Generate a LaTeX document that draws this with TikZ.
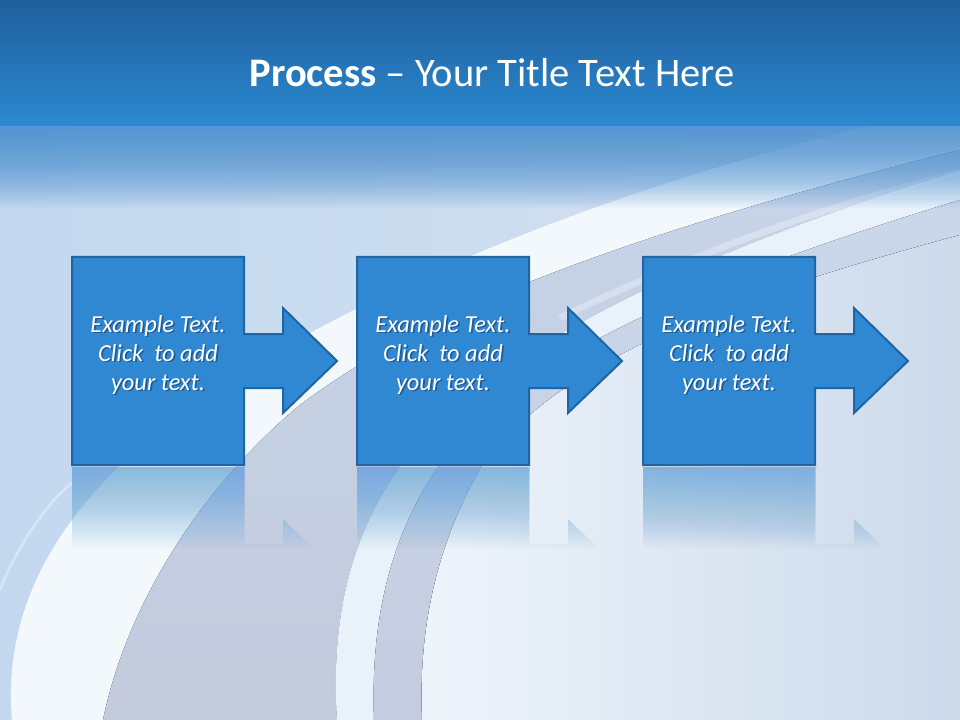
\documentclass[tikz,border=0pt]{standalone}
\usepackage{fontspec}
\setmainfont{Carlito}
\definecolor{boxblue}{HTML}{3088D2}
\definecolor{boxedge}{HTML}{1F64A3}
\definecolor{txtshadow}{HTML}{1F5C97}
\definecolor{tTop}{HTML}{1E5F9C}
\definecolor{tBot}{HTML}{2C89D1}
\definecolor{tFade}{HTML}{4790D3}
\definecolor{reflcol}{HTML}{5FA3DF}
\definecolor{bgL}{HTML}{C3D8EF}
\definecolor{bgM}{HTML}{BFCEE6}
\definecolor{bgR}{HTML}{D6E2F0}
\definecolor{wband}{HTML}{F3F8FC}
\definecolor{gOneT}{HTML}{C6D4E9}
\definecolor{gOneB}{HTML}{C3CBDC}
\definecolor{lstrip}{HTML}{E9F2FA}
\definecolor{gTwoT}{HTML}{CAD7EA}
\definecolor{gTwoB}{HTML}{C4CDDF}
\definecolor{rL}{HTML}{EEF4FA}
\definecolor{rR}{HTML}{CCDAEB}
\newcommand\shtext[1]{\makebox[0pt][l]{\kern1.3pt\raisebox{-1.3pt}{\textcolor{txtshadow}{#1}}}#1}
\tikzset{
  procpath/.style={insert path={(0,0) -- (172,0) -- (172,77) -- (211,77) -- (211,51) -- (265,104) -- (211,156) -- (211,131) -- (172,131) -- (172,208) -- (0,208) -- cycle}},
  procbox/.style={fill=boxblue, draw=boxedge, line width=1.5pt, line join=miter},
  boxtxt/.style={anchor=base, inner sep=0pt, text=white, font=\fontsize{18.3}{22}\selectfont\itshape},
  titletxt/.style={anchor=base, inner sep=0pt, text=white, font=\fontsize{30.4}{36}\selectfont}
}
\begin{document}
\begin{tikzpicture}[x=0.75pt,y=-0.75pt]
\useasboundingbox (0,0) rectangle (960,720);
% background
\fill[left color=bgL, middle color=bgM, right color=bgR] (0,0) rectangle (960,720);
% white swoosh
\fill[wband] (12,720) .. controls (0,580) and (90,470) .. (230,380) .. controls (380,285) and (600,190) .. (900,118) -- (960,118) -- (960,150) .. controls (560,250) and (400,330) .. (300,405) .. controls (215,475) and (130,590) .. (103,720) -- cycle;
% grey band
\fill[top color=gOneT, bottom color=gOneB] (103,720) .. controls (130,590) and (215,475) .. (300,405) .. controls (400,330) and (560,250) .. (960,150) -- (960,170) .. controls (640,270) and (470,370) .. (400,467) .. controls (355,530) and (330,610) .. (337,720) -- cycle;
% light strip
\fill[lstrip] (337,720) .. controls (330,610) and (355,530) .. (400,467) .. controls (470,370) and (640,270) .. (960,170) -- (960,200) .. controls (680,285) and (510,365) .. (438,467) .. controls (395,530) and (370,610) .. (374,720) -- cycle;
% second grey strip
\fill[top color=gTwoT, bottom color=gTwoB] (374,720) .. controls (370,610) and (395,530) .. (438,467) .. controls (510,365) and (680,285) .. (960,200) -- (960,235) .. controls (720,300) and (560,360) .. (481,467) .. controls (440,540) and (418,620) .. (422,720) -- cycle;
% right light region
\fill[left color=rL, right color=rR] (422,720) .. controls (418,620) and (440,540) .. (481,467) .. controls (560,360) and (720,300) .. (960,235) -- (960,720) -- cycle;
% faint streaks
\draw[white, opacity=0.3, line width=5pt] (560,318) .. controls (700,250) and (830,205) .. (960,172);
\draw[white, opacity=0.35, line width=2pt] (0,590) .. controls (20,540) and (50,500) .. (72,483);
% title: soft glow under the band (stacked translucent layers), then the band
\foreach \k in {1,...,40}{
  \fill[tFade, opacity=0.042] (0,124) rectangle (960,124+2.1*\k);
}
\fill[top color=tTop, bottom color=tBot] (0,0) rectangle (960,126);
\node[titletxt] (title) at (492,87) {\textbf{Process} – Your Title Text Here};
% process steps with reflections
\foreach \bx/\i in {72/1,357/2,643/3}{
  \begin{scope}
    \clip[shift={(\bx,675)}, yscale=-1, procpath];
    \foreach \k in {1,...,40}{
      \fill[reflcol, opacity=0.023] (\bx,467) rectangle (\bx+265,467+2.05*\k);
    }
  \end{scope}
  \draw[procbox, shift={(\bx,257)}, procpath];
  \node[boxtxt] (tx\i a) at (\bx+86,332) {\shtext{Example Text.}};
  \node[boxtxt] (tx\i b) at (\bx+86,361) {\shtext{Click\ \ to add}};
  \node[boxtxt] (tx\i c) at (\bx+86,390) {\shtext{your text.}};
}
\end{tikzpicture}
\end{document}
